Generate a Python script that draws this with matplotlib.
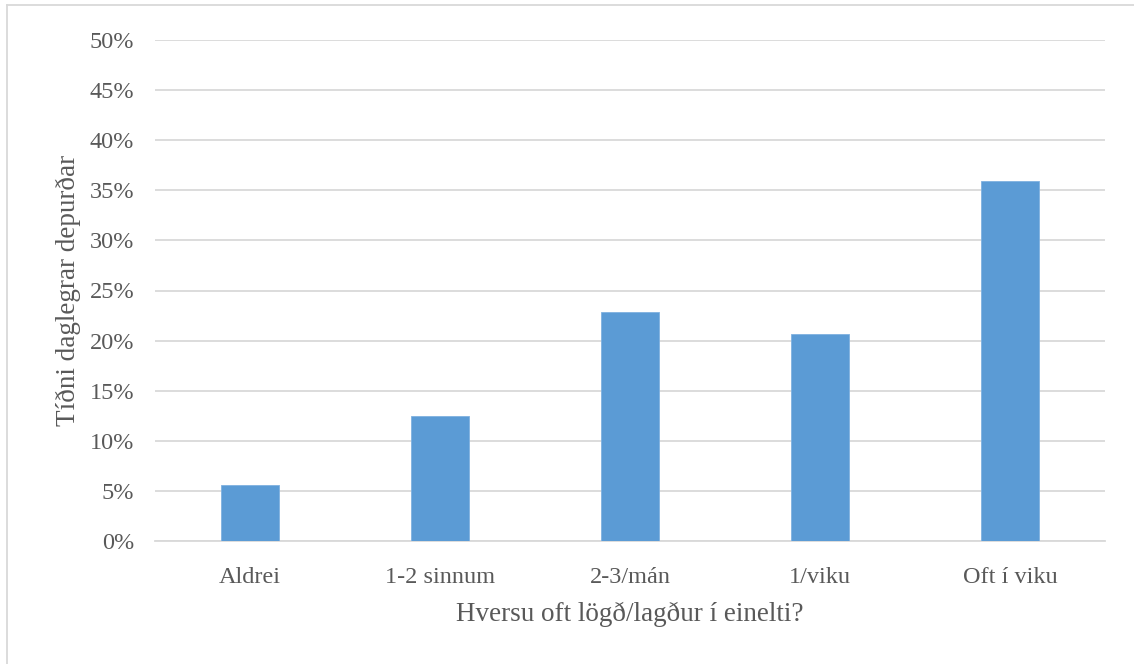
import matplotlib
matplotlib.use("Agg")
import matplotlib.pyplot as plt
from matplotlib.ticker import FuncFormatter
from matplotlib.lines import Line2D

categories = ["Aldrei", "1-2 sinnum", "2-3/mán", "1/viku", "Oft í viku"]
values = [5.6, 12.5, 22.9, 20.65, 35.9]
y_ticks = [0, 5, 10, 15, 20, 25, 30, 35, 40, 45, 50]
x_title = "Hversu oft lögð/lagður í einelti?"
y_title = "Tíðni daglegrar depurðar"

plt.rcParams['font.family'] = ['Liberation Serif', 'DejaVu Serif']
text_color = "#595959"

fig = plt.figure(figsize=(11.34, 6.64), dpi=100)
W, H = 1134, 664
ax = fig.add_axes([155 / W, 1 - 541 / H, (1105 - 155) / W, (541 - 40) / H])

x = list(range(len(categories)))
ax.bar(x, values, width=0.31, color="#5b9bd5", edgecolor="#7fb1e0", linewidth=0.6, zorder=3)

ax.set_xlim(-0.5, len(categories) - 0.5)
ax.set_ylim(0, 50)
ax.set_yticks(y_ticks)
ax.yaxis.set_major_formatter(FuncFormatter(lambda v, p: f"{int(round(v))}%"))
ax.set_xticks(x)
ax.set_xticklabels(categories)

ax.grid(axis="y", color="#d9d9d9", linewidth=1.3, zorder=0)
ax.set_axisbelow(True)
for s in ["top", "right", "left"]:
    ax.spines[s].set_visible(False)
ax.spines["bottom"].set_color("#d9d9d9")
ax.spines["bottom"].set_linewidth(1.3)

ax.tick_params(axis="both", length=0, labelsize=17.5, colors=text_color)
ax.tick_params(axis="y", pad=15)
ax.tick_params(axis="x", pad=18.5)

ax.set_xlabel(x_title, fontsize=19.5, color=text_color, labelpad=10)
ax.set_ylabel(y_title, fontsize=19.5, color=text_color, labelpad=6)

# light frame lines (top and left) as in the reference
fig.add_artist(Line2D([7 / W, 1], [1 - 5 / H, 1 - 5 / H], transform=fig.transFigure, color="#d9d9d9", linewidth=1.3))
fig.add_artist(Line2D([7 / W, 7 / W], [0, 1 - 5 / H], transform=fig.transFigure, color="#d9d9d9", linewidth=1.3))

fig.savefig("out.png", dpi=100)
